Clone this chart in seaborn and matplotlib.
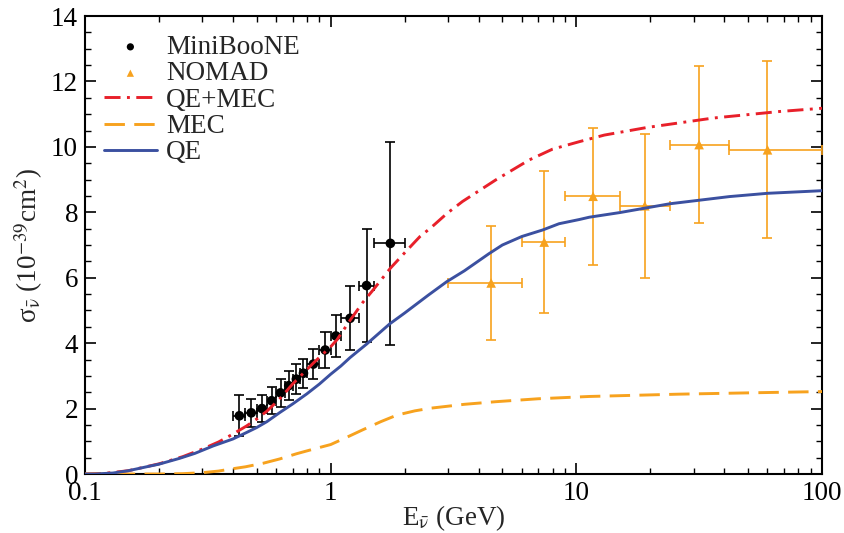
import numpy as np
import pandas as pd
import matplotlib
matplotlib.use("Agg")
import matplotlib.pyplot as plt
from matplotlib.ticker import FixedLocator, MultipleLocator, LogLocator, NullFormatter
import seaborn as sns

# MiniBooNE antineutrino CCQE-like cross section (bin centres, half widths)
mb_energy = [0.425, 0.475, 0.525, 0.575, 0.625, 0.675, 0.725, 0.775,
             0.85, 0.95, 1.05, 1.2, 1.4, 1.75]
mb_halfwidth = [0.025, 0.025, 0.025, 0.025, 0.025, 0.025, 0.025, 0.025,
                0.05, 0.05, 0.05, 0.1, 0.1, 0.25]
mb_sigma = [1.78, 1.87, 2.00, 2.24, 2.48, 2.70, 2.90, 3.08,
            3.36, 3.79, 4.22, 4.76, 5.76, 7.05]
mb_err = [0.62, 0.42, 0.42, 0.41, 0.42, 0.45, 0.45, 0.44,
          0.47, 0.55, 0.65, 0.98, 1.73, 3.10]

# NOMAD points with bin edges
nomad_energy = [4.5, 7.4, 11.7, 19.0, 31.6, 60.0]
nomad_low = [3.0, 6.0, 9.0, 15.0, 24.0, 42.0]
nomad_high = [6.0, 9.0, 15.0, 24.0, 42.0, 100.0]
nomad_sigma = [5.84, 7.09, 8.49, 8.20, 10.07, 9.91]
nomad_err = [1.75, 2.17, 2.10, 2.20, 2.40, 2.70]

# Model curves
qe_energy = [0.1, 0.11, 0.13, 0.15, 0.178, 0.2, 0.243, 0.28, 0.333, 0.4, 0.455,
             0.5, 0.55, 0.621, 0.7, 0.8, 0.9, 1.0, 1.1, 1.2, 1.4, 1.74, 2.0,
             2.5, 2.97, 3.5, 4.4, 5.0, 6.0, 7.3, 8.5, 10.3, 11.3, 15.0, 24.0,
             42.0, 60.0, 100.0]
qe_sigma = [0.0, 0.0, 0.03, 0.10, 0.22, 0.30, 0.48, 0.63, 0.86, 1.07, 1.27,
            1.42, 1.60, 1.88, 2.14, 2.45, 2.75, 3.05, 3.30, 3.56, 3.97, 4.59, 4.92,
            5.47, 5.88, 6.21, 6.73, 7.00, 7.26, 7.46, 7.65, 7.78, 7.85, 7.99, 8.26,
            8.48, 8.58, 8.66]

qemec_energy = [0.1, 0.12, 0.15, 0.2, 0.25, 0.3, 0.35, 0.4, 0.455, 0.5, 0.55,
                0.621, 0.7, 0.85, 1.0, 1.06, 1.2, 1.35, 1.49, 1.75, 2.04, 2.31,
                2.57, 2.98, 3.44, 4.7, 6.43, 8.0, 10.3, 13.0, 19.3, 36.0, 67.0,
                100.0]
qemec_sigma = [0.0, 0.02, 0.10, 0.31, 0.53, 0.76, 0.98, 1.22, 1.47, 1.68, 1.92,
               2.30, 2.75, 3.39, 3.89, 4.10, 4.70, 5.24, 5.63, 6.29, 6.83, 7.26,
               7.54, 7.97, 8.33, 8.99, 9.60, 9.93, 10.16, 10.36, 10.59, 10.88,
               11.08, 11.18]

mec_energy = [0.1, 0.2, 0.25, 0.3, 0.35, 0.39, 0.45, 0.532, 0.62, 0.727, 0.85,
              1.0, 1.2, 1.35, 1.6, 1.86, 2.2, 2.54, 3.5, 4.7, 7.0, 11.3, 26.0,
              50.0, 100.0]
mec_sigma = [0.0, 0.0, 0.01, 0.04, 0.09, 0.15, 0.22, 0.33, 0.46, 0.62, 0.76,
             0.90, 1.17, 1.35, 1.60, 1.80, 1.93, 2.01, 2.13, 2.21, 2.30, 2.37,
             2.44, 2.48, 2.52]

RED = "#e8202a"
ORANGE = "#f7a21e"
BLUE = "#3b50a0"
FS = 19.5

sns.set_theme(style="ticks")
plt.rcParams["font.family"] = ["Liberation Serif", "DejaVu Serif"]
plt.rcParams["mathtext.fontset"] = "stix"

fig = plt.figure(figsize=(8.44, 5.33), dpi=100)
ax = fig.add_axes([85 / 844, 59 / 533, 737 / 844, 458 / 533])
ax.set_xscale("log")

mb = pd.DataFrame({"E": mb_energy, "sigma": mb_sigma})
nomad = pd.DataFrame({"E": nomad_energy, "sigma": nomad_sigma})

# data points
ax.errorbar(mb_energy, mb_sigma, yerr=mb_err, xerr=mb_halfwidth, fmt="none",
            ecolor="black", elinewidth=1.2, capsize=3.6, capthick=1.2, zorder=3)
sns.scatterplot(data=mb, x="E", y="sigma", ax=ax, color="black", marker="o",
                s=48, edgecolor="none", label="MiniBooNE", zorder=4)

nomad_xerr = [np.subtract(nomad_energy, nomad_low), np.subtract(nomad_high, nomad_energy)]
ax.errorbar(nomad_energy, nomad_sigma, yerr=nomad_err, xerr=nomad_xerr, fmt="none",
            ecolor=ORANGE, elinewidth=1.2, capsize=3.6, capthick=1.2, zorder=3)
sns.scatterplot(data=nomad, x="E", y="sigma", ax=ax, color=ORANGE, marker="^",
                s=48, edgecolor="none", label="NOMAD", zorder=4)

# model curves
sns.lineplot(x=qemec_energy, y=qemec_sigma, ax=ax, color=RED, lw=2.1,
             linestyle=(0, (5.5, 2.2, 1.0, 2.2)), label="QE+MEC", zorder=5)
sns.lineplot(x=mec_energy, y=mec_sigma, ax=ax, color=ORANGE, lw=2.1,
             linestyle=(0, (7, 3.2)), label="MEC", zorder=5)
sns.lineplot(x=qe_energy, y=qe_sigma, ax=ax, color=BLUE, lw=2.1,
             label="QE", zorder=5)

ax.set_xlim(0.1, 100)
ax.set_ylim(0, 14)

ax.xaxis.set_major_locator(FixedLocator([0.1, 1, 10, 100]))
ax.set_xticklabels(["0.1", "1", "10", "100"])
ax.xaxis.set_minor_locator(LogLocator(base=10, subs=np.arange(2, 10)))
ax.xaxis.set_minor_formatter(NullFormatter())
ax.yaxis.set_major_locator(MultipleLocator(2))
ax.yaxis.set_minor_locator(MultipleLocator(0.5))

ax.tick_params(which="both", direction="in", top=True, right=True,
               colors="black", labelsize=FS)
ax.tick_params(which="major", length=8, width=1.2, pad=5)
ax.tick_params(which="minor", length=4.5, width=1.0)
for sp in ax.spines.values():
    sp.set_linewidth(1.5)
    sp.set_color("black")

ax.set_xlabel(r"E$_{\bar{\mathrm{\nu}}}$ (GeV)", fontsize=FS, labelpad=-2)
ax.set_ylabel(r"σ$_{\bar{\mathrm{\nu}}}$ (10$^{-39}$cm$^{2}$)", fontsize=FS, labelpad=4)

handles, labels = ax.get_legend_handles_labels()
order = ["MiniBooNE", "NOMAD", "QE+MEC", "MEC", "QE"]
hmap = dict(zip(labels, handles))
leg = ax.legend([hmap[k] for k in order], order, loc="upper left", frameon=False,
                fontsize=FS, handlelength=1.95, handletextpad=0.35,
                labelspacing=0.05, borderaxespad=0.35, borderpad=0.35,
                markerscale=0.75)

fig.savefig("out.png", dpi=100)
